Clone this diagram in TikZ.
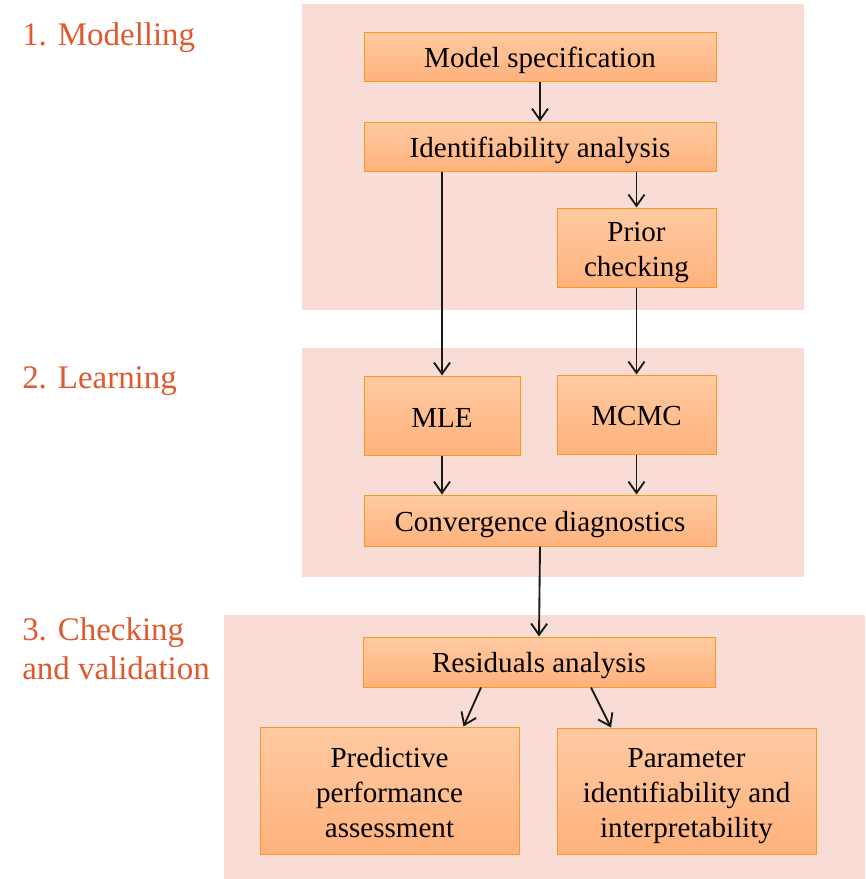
\documentclass[tikz,border=0pt]{standalone}
\usepackage{fontspec}
\setmainfont{Liberation Serif}
\usetikzlibrary{arrows.meta,fit,calc}
\definecolor{panelc}{HTML}{F8DCD5}
\definecolor{labelc}{HTML}{E0582D}
\definecolor{boxtop}{HTML}{FFCAA2}
\definecolor{boxbot}{HTML}{FFB27C}
\definecolor{boxline}{HTML}{F39A1F}
\begin{document}
\begin{tikzpicture}[x=0.75pt,y=-0.75pt,
  panel/.style={fill=panelc,draw=none},
  box/.style={draw=boxline,line width=0.75pt,top color=boxtop,bottom color=boxbot,
    inner sep=0pt},
  txt/.style={inner sep=0pt,align=center,font=\fontsize{21.8pt}{26pt}\selectfont},
  lab/.style={anchor=base west,text=labelc,inner sep=0pt,font=\fontsize{24.7pt}{29pt}\selectfont},
  arr/.style={draw=black!90,line width=1.4pt,-{Straight Barb[length=8.5pt,width=12pt]}}]
\useasboundingbox (0,0) rectangle (865,879);
\fill[white] (0,0) rectangle (865,879);
% panels
\fill[panel] (302,4) rectangle (804,310);
\fill[panel] (302,348) rectangle (804,577);
\fill[panel] (224,615) rectangle (865,879);
% labels
\node[lab] (l1) at (22,45) {1. Modelling};
\node[lab] (l2) at (22,388) {2. Learning};
\node[lab] (l3a) at (22,640) {3. Checking};
\node[lab] (l3b) at (22,679) {and validation};
% boxes
\node[box,fit={(364,32) (716,81)}] (ms) {};
\node[txt] at ($(ms.center)+(0,4)$) (mst) {Model specification};
\node[box,fit={(364,122) (716,171)}] (ia) {};
\node[txt] at ($(ia.center)+(0,4)$) (iat) {Identifiability analysis};
\node[box,fit={(557,208) (716,287)}] (pc) {};
\node[txt] at ($(pc.center)+(0,5)$) (pct) {Prior\\checking};
\node[box,fit={(364,376) (520,455)}] (mle) {};
\node[txt] at ($(mle.center)+(0,2)$) (mlet) {MLE};
\node[box,fit={(557,375) (716,454)}] (mcmc) {};
\node[txt] at ($(mcmc.center)+(0,2)$) (mcmct) {MCMC};
\node[box,fit={(364,495) (716,546)}] (cd) {};
\node[txt] at ($(cd.center)+(0,4)$) (cdt) {Convergence diagnostics};
\node[box,fit={(363,637) (715,687)}] (ra) {};
\node[txt] at ($(ra.center)+(0,4)$) (rat) {Residuals analysis};
\node[box,fit={(260,727) (519,854)}] (pp) {};
\node[txt] at ($(pp.center)+(0,2)$) (ppt) {Predictive\\performance\\assessment};
\node[box,fit={(557,728) (816,854)}] (pi) {};
\node[txt] at ($(pi.center)+(0,5)$) (pit) {Parameter\\identifiability and\\interpretability};
% connectors
\draw[arr] (ms.south) -- (ia.north);
\draw[arr] (ia.south -| mle.north) -- (mle.north);
\draw[arr] (ia.south -| pc.north) -- (pc.north);
\draw[arr] (pc.south) -- (mcmc.north);
\draw[arr] (mle.south) -- (mle.south |- cd.north);
\draw[arr] (mcmc.south) -- (mcmc.south |- cd.north);
\draw[arr] (cd.south) -- (ra.north);
\draw[arr] ($(ra.south)+(-58,0)$) -- ($(pp.north)+(74,0)$);
\draw[arr] ($(ra.south)+(52,0)$) -- ($(pi.north)+(-75.5,0)$);
\end{tikzpicture}
\end{document}
